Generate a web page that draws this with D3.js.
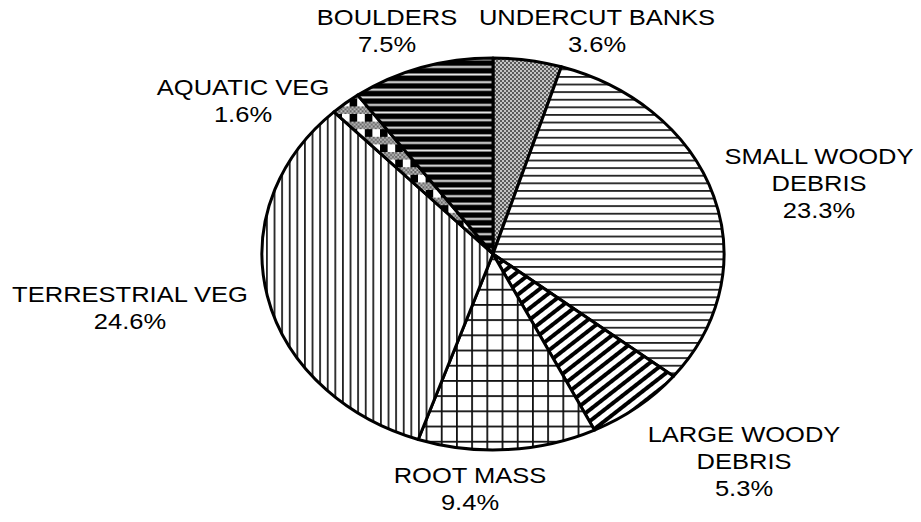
<!DOCTYPE html>
<html lang="en">
<head>
    <meta charset="UTF-8">
    <script src="https://cdnjs.cloudflare.com/ajax/libs/d3/7.9.0/d3.min.js"></script>
    <title>Cover types</title>
    <style>
        body { margin: 0; background: white; }
        svg { display: block; }
        text { font-family: "Liberation Sans", Arial, sans-serif; font-size: 22px; fill: #000; }
    </style>
</head>
<body>
<div id="chart"></div>
<script>
    const width = 921;
    const height = 522;

    // slices, clockwise from 12 o'clock
    const categories = ["UNDERCUT BANKS", "SMALL WOODY DEBRIS", "LARGE WOODY DEBRIS",
        "ROOT MASS", "TERRESTRIAL VEG", "AQUATIC VEG", "BOULDERS"];
    const values = [3.6, 23.3, 5.3, 9.4, 24.6, 1.6, 7.5];
    const labelLines = [
        ["UNDERCUT BANKS"], ["SMALL WOODY", "DEBRIS"], ["LARGE WOODY", "DEBRIS"],
        ["ROOT MASS"], ["TERRESTRIAL VEG"], ["AQUATIC VEG"], ["BOULDERS"]
    ];
    const patternIds = ["dots", "hlines", "diag", "grid", "vlines", "plaid", "darkh"];

    // label anchors (center x, first baseline)
    const labelPos = [[597, 25], [819, 164], [744, 442], [470, 483], [130, 302], [243, 95], [387, 25]];

    const cx = 493, cy = 254, rx = 231, ry = 196;

    const svg = d3.select("#chart").append("svg")
        .attr("width", width)
        .attr("height", height);

    const defs = svg.append("defs");

    // fine grey checker
    const p1 = defs.append("pattern").attr("id", "dots").attr("patternUnits", "userSpaceOnUse")
        .attr("width", 4).attr("height", 4);
    p1.append("rect").attr("width", 4).attr("height", 4).attr("fill", "#c4c4c4");
    p1.append("rect").attr("width", 2).attr("height", 2).attr("fill", "#5a5a5a");
    p1.append("rect").attr("x", 2).attr("y", 2).attr("width", 2).attr("height", 2).attr("fill", "#5a5a5a");

    // light horizontal
    const p2 = defs.append("pattern").attr("id", "hlines").attr("patternUnits", "userSpaceOnUse")
        .attr("width", 8).attr("height", 7.6);
    p2.append("rect").attr("width", 8).attr("height", 7.6).attr("fill", "#fff");
    p2.append("rect").attr("width", 8).attr("height", 1.8).attr("fill", "#222");

    // wide upward diagonal
    const p3 = defs.append("pattern").attr("id", "diag").attr("patternUnits", "userSpaceOnUse")
        .attr("width", 10).attr("height", 9).attr("patternTransform", "rotate(-38)");
    p3.append("rect").attr("width", 10).attr("height", 9).attr("fill", "#fff");
    p3.append("rect").attr("width", 10).attr("height", 4).attr("fill", "#000");

    // large grid
    const p4 = defs.append("pattern").attr("id", "grid").attr("patternUnits", "userSpaceOnUse")
        .attr("width", 15.2).attr("height", 15.2);
    p4.append("rect").attr("width", 15.2).attr("height", 15.2).attr("fill", "#fff");
    p4.append("rect").attr("width", 15.2).attr("height", 1.8).attr("fill", "#111");
    p4.append("rect").attr("width", 1.8).attr("height", 15.2).attr("fill", "#111");

    // light vertical
    const p5 = defs.append("pattern").attr("id", "vlines").attr("patternUnits", "userSpaceOnUse")
        .attr("width", 7.6).attr("height", 8);
    p5.append("rect").attr("width", 7.6).attr("height", 8).attr("fill", "#fff");
    p5.append("rect").attr("width", 1.8).attr("height", 8).attr("fill", "#222");

    // plaid
    const p6 = defs.append("pattern").attr("id", "plaid").attr("patternUnits", "userSpaceOnUse")
        .attr("width", 15.2).attr("height", 15.2);
    p6.append("rect").attr("width", 15.2).attr("height", 15.2).attr("fill", "#fff");
    p6.append("rect").attr("width", 15.2).attr("height", 7.6).attr("fill", "url(#dots)");
    p6.append("rect").attr("y", 7.6).attr("width", 7.6).attr("height", 7.6).attr("fill", "#000");

    // dark horizontal
    const p7 = defs.append("pattern").attr("id", "darkh").attr("patternUnits", "userSpaceOnUse")
        .attr("width", 8).attr("height", 7.6);
    p7.append("rect").attr("width", 8).attr("height", 7.6).attr("fill", "#000");
    p7.append("rect").attr("y", 5.2).attr("width", 8).attr("height", 1.4).attr("fill", "#fff");
    p7.append("rect").attr("y", 6.6).attr("width", 8).attr("height", 0.8).attr("fill", "#999");

    const pie = d3.pie().sort(null).value(d => d);
    const arcs = pie(values);

    // elliptical wedge from pie angles
    const pt = a => [cx + rx * Math.sin(a), cy - ry * Math.cos(a)];
    const wedge = d => {
        const [x0, y0] = pt(d.startAngle);
        const [x1, y1] = pt(d.endAngle);
        const large = d.endAngle - d.startAngle > Math.PI ? 1 : 0;
        return `M${cx},${cy}L${x0},${y0}A${rx},${ry} 0 ${large} 1 ${x1},${y1}Z`;
    };

    svg.append("g").selectAll("path")
        .data(arcs)
        .enter()
        .append("path")
        .attr("d", wedge)
        .attr("fill", (d, i) => `url(#${patternIds[i]})`)
        .attr("stroke", "#000")
        .attr("stroke-width", 3)
        .attr("stroke-linejoin", "round");

    const labels = svg.append("g").selectAll("text")
        .data(arcs)
        .enter()
        .append("text")
        .attr("text-anchor", "middle")
        .attr("transform", (d, i) => `translate(${labelPos[i][0]},${labelPos[i][1]}) scale(1.16,1)`);

    labels.each(function (d, i) {
        const t = d3.select(this);
        const lines = labelLines[i].concat([`${values[i].toFixed(1)}%`]);
        lines.forEach((l, j) => {
            t.append("tspan").attr("x", 0).attr("y", j * 27).text(l);
        });
    });
</script>
</body>
</html>
